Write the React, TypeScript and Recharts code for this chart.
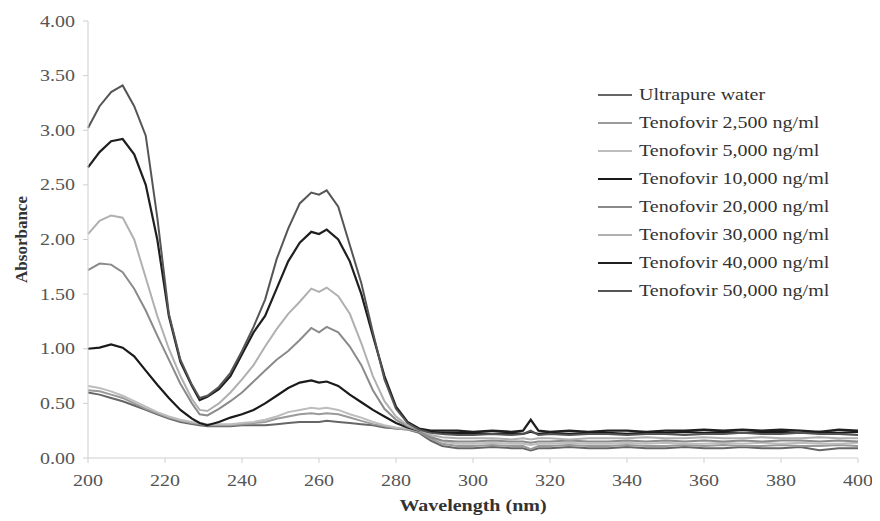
import { Line, LineChart, XAxis, YAxis } from "recharts";

const wavelength = [
  200, 203, 206, 209, 212, 215, 218, 221, 224, 227, 229, 231, 234, 237, 240, 243, 246, 249, 252, 255, 258, 260, 262, 265,
  268, 271, 274, 277, 280, 283, 286, 289, 292, 296, 300, 305, 310, 313, 315, 317, 320, 325, 330, 335, 340, 345, 350, 355,
  360, 365, 370, 375, 380, 385, 390, 395, 400,
];

const water = [
  0.6, 0.58, 0.55, 0.52, 0.48, 0.44, 0.4, 0.36, 0.33, 0.31, 0.3, 0.29, 0.29, 0.29, 0.3, 0.3, 0.3, 0.31, 0.32, 0.33, 0.33, 0.33, 0.34, 0.33,
  0.32, 0.31, 0.3, 0.28, 0.27, 0.26, 0.23, 0.16, 0.11, 0.09, 0.09, 0.1, 0.09, 0.09, 0.07, 0.09, 0.09, 0.1, 0.09, 0.09, 0.1, 0.09, 0.09, 0.1,
  0.09, 0.09, 0.1, 0.09, 0.09, 0.1, 0.07, 0.09, 0.09,
];
const teno2500 = [
  0.62, 0.61, 0.58, 0.55, 0.5, 0.45, 0.41, 0.37, 0.34, 0.32, 0.31, 0.3, 0.3, 0.3, 0.31, 0.32, 0.33, 0.36, 0.38, 0.4, 0.41, 0.4, 0.41, 0.4,
  0.37, 0.34, 0.31, 0.29, 0.27, 0.26, 0.24, 0.18, 0.13, 0.11, 0.11, 0.12, 0.11, 0.11, 0.08, 0.11, 0.11, 0.12, 0.11, 0.11, 0.12, 0.11, 0.11, 0.12,
  0.11, 0.12, 0.11, 0.11, 0.12, 0.11, 0.11, 0.12, 0.11,
];
const teno5000 = [
  0.66, 0.64, 0.61, 0.57, 0.52, 0.47, 0.42, 0.38, 0.35, 0.33, 0.32, 0.31, 0.31, 0.31, 0.32, 0.33, 0.35, 0.38, 0.42, 0.44, 0.46, 0.45, 0.46, 0.44,
  0.4, 0.37, 0.33, 0.3, 0.28, 0.27, 0.25, 0.2, 0.15, 0.13, 0.13, 0.14, 0.13, 0.13, 0.12, 0.13, 0.13, 0.14, 0.13, 0.13, 0.14, 0.13, 0.14, 0.13,
  0.13, 0.14, 0.13, 0.14, 0.13, 0.14, 0.13, 0.13, 0.14,
];
const teno10000 = [
  1.0, 1.01, 1.04, 1.01, 0.93, 0.8, 0.67, 0.55, 0.44, 0.36, 0.32, 0.3, 0.33, 0.37, 0.4, 0.44, 0.5, 0.57, 0.64, 0.69, 0.71, 0.69, 0.7, 0.66,
  0.58, 0.51, 0.44, 0.38, 0.32, 0.28, 0.25, 0.24, 0.23, 0.23, 0.23, 0.22, 0.23, 0.22, 0.24, 0.22, 0.23, 0.22, 0.23, 0.23, 0.22, 0.23, 0.23, 0.24,
  0.23, 0.24, 0.23, 0.24, 0.24, 0.23, 0.24, 0.23, 0.24,
];
const teno20000 = [
  1.72, 1.78, 1.77, 1.7, 1.55, 1.35, 1.12, 0.9, 0.68, 0.5, 0.4, 0.39, 0.45, 0.52, 0.6, 0.7, 0.8, 0.9, 0.98, 1.08, 1.19, 1.15, 1.2, 1.15,
  1.02, 0.85, 0.62, 0.45, 0.35, 0.29, 0.25, 0.19, 0.16, 0.15, 0.15, 0.16, 0.15, 0.15, 0.14, 0.15, 0.15, 0.16, 0.15, 0.15, 0.16, 0.15, 0.16, 0.15,
  0.16, 0.15, 0.16, 0.15, 0.16, 0.16, 0.15, 0.16, 0.15,
];
const teno30000 = [
  2.05, 2.17, 2.22, 2.2, 2.0, 1.65, 1.3, 1.0, 0.75, 0.54, 0.44, 0.43, 0.5, 0.6, 0.72, 0.85, 1.02, 1.18, 1.32, 1.43, 1.55, 1.52, 1.56, 1.48,
  1.32, 1.05, 0.75, 0.52, 0.38, 0.3, 0.26, 0.21, 0.19, 0.18, 0.18, 0.18, 0.17, 0.18, 0.17, 0.18, 0.18, 0.17, 0.18, 0.18, 0.18, 0.19, 0.18, 0.18,
  0.19, 0.18, 0.18, 0.19, 0.18, 0.18, 0.19, 0.18, 0.18,
];
const teno40000 = [
  2.66, 2.8, 2.9, 2.92, 2.78, 2.5, 2.0, 1.3, 0.88, 0.66, 0.53, 0.56, 0.63, 0.75, 0.95, 1.15, 1.3, 1.55, 1.8, 1.97, 2.07, 2.05, 2.09, 2.0,
  1.8, 1.5, 1.12, 0.75, 0.47, 0.33, 0.27, 0.25, 0.25, 0.25, 0.24, 0.25, 0.24, 0.25, 0.35, 0.25, 0.24, 0.25, 0.24, 0.25, 0.25, 0.24, 0.25, 0.25,
  0.26, 0.25, 0.26, 0.25, 0.26, 0.25, 0.24, 0.26, 0.25,
];
const teno50000 = [
  3.02, 3.22, 3.35, 3.41, 3.22, 2.95, 2.2, 1.32, 0.9, 0.67, 0.55, 0.57, 0.65, 0.78, 0.98, 1.2, 1.45, 1.82, 2.1, 2.33, 2.43, 2.41, 2.45, 2.3,
  1.95, 1.6, 1.15, 0.72, 0.45, 0.32, 0.26, 0.23, 0.22, 0.21, 0.21, 0.22, 0.21, 0.22, 0.25, 0.21, 0.22, 0.21, 0.22, 0.22, 0.21, 0.22, 0.22, 0.21,
  0.22, 0.22, 0.23, 0.22, 0.22, 0.23, 0.22, 0.22, 0.21,
];

const yTicks = [0, 0.5, 1, 1.5, 2, 2.5, 3, 3.5, 4];
const xTicks = [200, 220, 240, 260, 280, 300, 320, 340, 360, 380, 400];

const SERIES = [
  { key: "water", name: "Ultrapure water", values: water, color: "#666666", width: 2 },
  { key: "t2500", name: "Tenofovir 2,500 ng/ml", values: teno2500, color: "#9a9a9a", width: 2 },
  { key: "t5000", name: "Tenofovir 5,000 ng/ml", values: teno5000, color: "#bdbdbd", width: 2 },
  { key: "t10000", name: "Tenofovir 10,000 ng/ml", values: teno10000, color: "#1a1a1a", width: 2.2 },
  { key: "t20000", name: "Tenofovir 20,000 ng/ml", values: teno20000, color: "#8a8a8a", width: 2 },
  { key: "t30000", name: "Tenofovir 30,000 ng/ml", values: teno30000, color: "#b0b0b0", width: 2 },
  { key: "t40000", name: "Tenofovir 40,000 ng/ml", values: teno40000, color: "#1f1f1f", width: 2.2 },
  { key: "t50000", name: "Tenofovir 50,000 ng/ml", values: teno50000, color: "#555555", width: 2 },
];

const data = wavelength.map((w, i) => {
  const row: Record<string, number> = { wl: w };
  SERIES.forEach((s) => (row[s.key] = s.values[i]));
  return row;
});

// the source figure is a bit stretched sideways, so text gets a horizontal scale
const FONT = '"Liberation Serif", "Times New Roman", serif';
const STRETCH = 1.25;
const AXIS = "#cfcfcf";

function YTick({ x, y, payload }: any) {
  return (
    <g transform={`translate(${x},${y})`}>
      <text transform={`scale(${STRETCH},1)`} textAnchor="end" dy="0.35em" fontFamily={FONT} fontSize={16} fill="#555">
        {Number(payload.value).toFixed(2)}
      </text>
    </g>
  );
}

function XTick({ x, y, payload }: any) {
  return (
    <g transform={`translate(${x},${y})`}>
      <text transform={`scale(${STRETCH},1)`} textAnchor="middle" dy="0.71em" fontFamily={FONT} fontSize={16} fill="#555">
        {payload.value}
      </text>
    </g>
  );
}

function XTitle({ viewBox }: any) {
  const cx = viewBox.x + viewBox.width / 2;
  return (
    <g transform={`translate(${cx},${viewBox.y + 53})`}>
      <text transform={`scale(${STRETCH},1)`} textAnchor="middle" fontFamily={FONT} fontSize={16} fontWeight="bold" fill="#333">
        Wavelength (nm)
      </text>
    </g>
  );
}

function YTitle({ viewBox }: any) {
  const cy = viewBox.y + viewBox.height / 2;
  return (
    <g transform={`translate(19,${cy}) rotate(-90)`}>
      <text textAnchor="middle" fontFamily={FONT} fontSize={17} fontWeight="bold" fill="#333">
        Absorbance
      </text>
    </g>
  );
}

function SpectraLegend() {
  return (
    <div style={{ position: "absolute", left: 590, top: 73, fontFamily: FONT, fontSize: 16, color: "#333" }}>
      {SERIES.map((s) => (
        <div key={s.key} style={{ display: "flex", alignItems: "center", height: 28, whiteSpace: "nowrap" }}>
          <span style={{ display: "inline-block", width: 34, height: s.width + 0.5, background: s.color, marginRight: 7 }} />
          <span style={{ display: "inline-block", transform: `scaleX(${STRETCH})`, transformOrigin: "left center" }}>{s.name}</span>
        </div>
      ))}
    </div>
  );
}

export default function App() {
  return (
    <div style={{ position: "relative", width: 864, height: 513 }}>
      <LineChart width={864} height={513} data={data} margin={{ top: 13, right: 14, left: 20, bottom: 0 }}>
        <XAxis
          dataKey="wl"
          type="number"
          domain={[200, 400]}
          ticks={xTicks}
          tick={<XTick />}
          tickSize={5}
          tickMargin={12}
          tickLine={{ stroke: AXIS }}
          axisLine={{ stroke: AXIS }}
          height={63}
          label={<XTitle />}
        />
        <YAxis
          type="number"
          domain={[0, 4]}
          ticks={yTicks}
          tick={<YTick />}
          tickSize={5}
          tickMargin={8}
          tickLine={{ stroke: AXIS }}
          axisLine={{ stroke: AXIS }}
          width={60}
          label={<YTitle />}
        />
        {SERIES.map((s) => (
          <Line
            key={s.key}
            dataKey={s.key}
            name={s.name}
            type="linear"
            stroke={s.color}
            strokeWidth={s.width}
            dot={false}
            isAnimationActive={false}
          />
        ))}
      </LineChart>
      <SpectraLegend />
    </div>
  );
}
